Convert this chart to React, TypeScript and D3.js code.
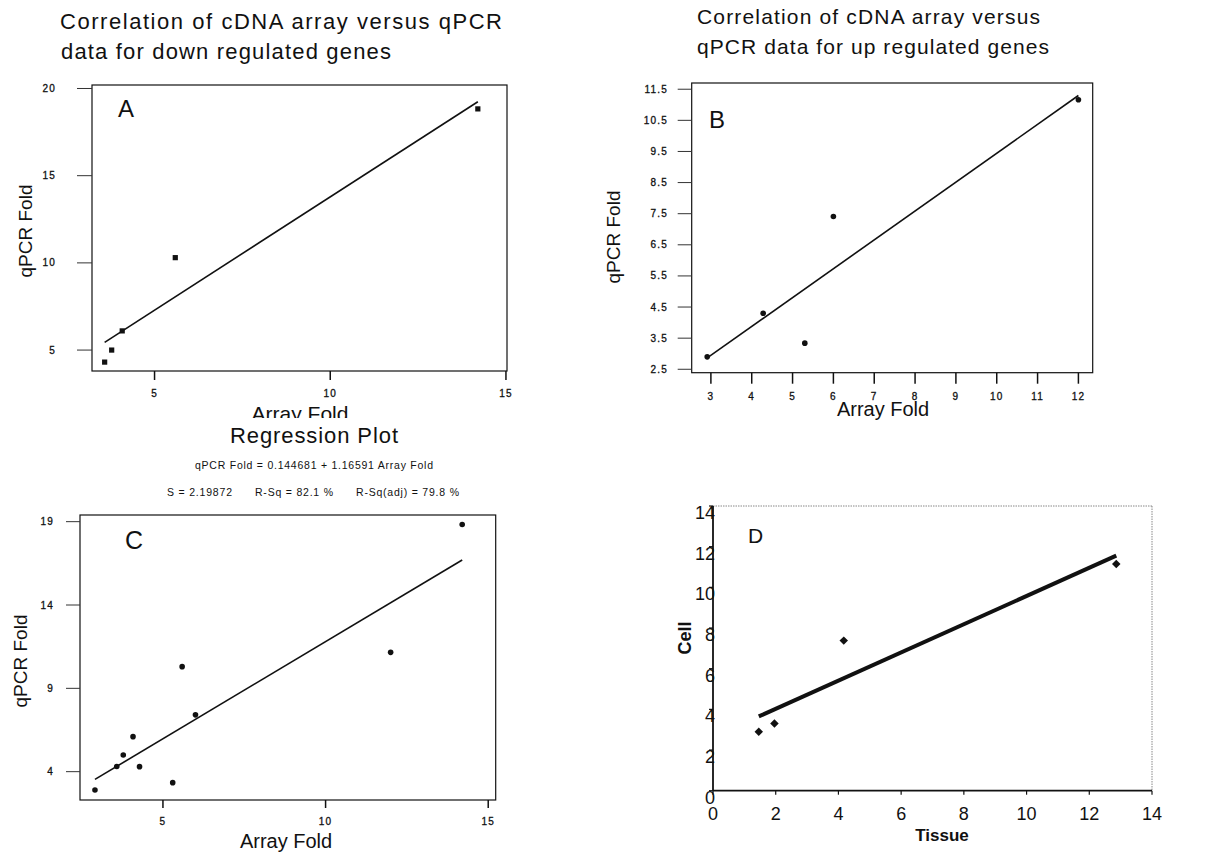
import React from 'react';
import * as d3 from 'd3';

// ---- data ----
const downArrayFold = [3.58, 3.78, 4.08, 5.59, 14.2];
const downQpcrFold = [4.31, 5.0, 6.1, 10.3, 18.83];
const upArrayFold = [2.91, 4.28, 5.3, 6.0, 12.0];
const upQpcrFold = [2.9, 4.3, 3.34, 7.41, 11.16];
const allArrayFold = [...upArrayFold, ...downArrayFold];
const allQpcrFold = [...upQpcrFold, ...downQpcrFold];
const tissueFold = [1.46, 1.96, 4.17, 12.86];
const cellFold = [2.9, 3.31, 7.38, 11.15];
const regressionC = [0.144681, 1.16591];

const ticksAX = [5, 10, 15];
const ticksAY = [5, 10, 15, 20];
const ticksBX = [3, 4, 5, 6, 7, 8, 9, 10, 11, 12];
const ticksBY = [2.5, 3.5, 4.5, 5.5, 6.5, 7.5, 8.5, 9.5, 10.5, 11.5];
const ticksCX = [5, 10, 15];
const ticksCY = [4, 9, 14, 19];
const ticksD = [0, 2, 4, 6, 8, 10, 12, 14];

const FONT = "'Liberation Sans', Arial, Helvetica, sans-serif";

function linReg(xs: number[], ys: number[]): [number, number] {
  const mx = d3.mean(xs)!;
  const my = d3.mean(ys)!;
  let sxy = 0, sxx = 0;
  xs.forEach((x, i) => { sxy += (x - mx) * (ys[i] - my); sxx += (x - mx) ** 2; });
  const b1 = sxy / sxx;
  return [my - b1 * mx, b1];
}

type Box = { l: number; t: number; r: number; b: number };

function fitLine(xs: number[], coef: number[], x: d3.ScaleLinear<number, number>, y: d3.ScaleLinear<number, number>) {
  const [lo, hi] = d3.extent(xs) as [number, number];
  const gen = d3.line<number>().x(v => x(v)).y(v => y(coef[0] + coef[1] * v));
  return gen([lo, hi]) || '';
}

function MinitabPanel(props: {
  xs: number[]; ys: number[]; coef: number[]; box: Box;
  xDom: [number, number]; yDom: [number, number];
  xTicks: number[]; yTicks: number[]; yFmt: (v: number) => string;
  yTickLen: number; xTickLen: number; yLabelRight: number; xLabelBase: number;
  marker: 'square' | 'circle';
}) {
  const { xs, ys, coef, box, xDom, yDom, xTicks, yTicks, yFmt } = props;
  const x = d3.scaleLinear().domain(xDom).range([box.l, box.r]);
  const y = d3.scaleLinear().domain(yDom).range([box.b, box.t]);
  return (
    <g>
      <rect x={box.l} y={box.t} width={box.r - box.l} height={box.b - box.t} fill="none" stroke="#111" strokeWidth={1.2} />
      {yTicks.map(v => (
        <g key={'y' + v}>
          <line x1={box.l - props.yTickLen} x2={box.l} y1={y(v)} y2={y(v)} stroke="#333" strokeWidth={1} />
          <text x={props.yLabelRight} y={y(v)} dy="0.35em" textAnchor="end" fontSize={10} letterSpacing={1.2} fill="#111" stroke="#111" strokeWidth={0.3}>{yFmt(v)}</text>
        </g>
      ))}
      {xTicks.map(v => (
        <g key={'x' + v}>
          <line x1={x(v)} x2={x(v)} y1={box.b} y2={box.b + props.xTickLen} stroke="#111" strokeWidth={1.5} />
          <text x={x(v)} y={props.xLabelBase} textAnchor="middle" fontSize={10} letterSpacing={1.2} fill="#111" stroke="#111" strokeWidth={0.3}>{String(v)}</text>
        </g>
      ))}
      <path d={fitLine(xs, coef, x, y)} fill="none" stroke="#111" strokeWidth={1.6} />
      {xs.map((v, i) => props.marker === 'square'
        ? <rect key={i} x={x(v) - 2.6} y={y(ys[i]) - 2.6} width={5.2} height={5.2} fill="#111" />
        : <circle key={i} cx={x(v)} cy={y(ys[i])} r={2.8} fill="#111" />)}
    </g>
  );
}

export default function App() {
  const coefA = linReg(downArrayFold, downQpcrFold);
  const coefB = linReg(upArrayFold, upQpcrFold);
  const coefD = linReg(tissueFold, cellFold);

  const boxD: Box = { l: 713, t: 506, r: 1152, b: 790.7 };
  const xD = d3.scaleLinear().domain([0, 14]).range([boxD.l, boxD.r]);
  const yD = d3.scaleLinear().domain([0, 14]).range([boxD.b, boxD.t]);

  return (
    <svg width={1223} height={852} viewBox="0 0 1223 852"
      style={{ position: 'absolute', left: 0, top: 0, background: '#fff' }}
      fontFamily={FONT}>
      <defs>
        <clipPath id="clipA"><rect x={0} y={0} width={600} height={418} /></clipPath>
      </defs>
      <rect x={0} y={0} width={1223} height={852} fill="#fff" />

      {/* Panel A */}
      <text x={60} y={29} fontSize={22} textLength={442} lengthAdjust="spacing" fill="#111">Correlation of cDNA array versus qPCR</text>
      <text x={61} y={59} fontSize={22} textLength={330} lengthAdjust="spacing" fill="#111">data for down regulated genes</text>
      <MinitabPanel xs={downArrayFold} ys={downQpcrFold} coef={coefA}
        box={{ l: 92, t: 85, r: 507, b: 371 }} xDom={[3.22, 15.03]} yDom={[3.8, 20.2]}
        xTicks={ticksAX} yTicks={ticksAY} yFmt={v => String(v)}
        yTickLen={15} xTickLen={9} yLabelRight={56} xLabelBase={397} marker="square" />
      <text x={118} y={117} fontSize={24} fill="#111">A</text>
      <text transform="translate(32,231) rotate(-90)" textAnchor="middle" fontSize={19} fill="#111">qPCR Fold</text>
      <g clipPath="url(#clipA)">
        <text x={300} y={421} textAnchor="middle" fontSize={21} fill="#111">Array Fold</text>
      </g>

      {/* Panel B */}
      <text x={697} y={24} fontSize={21} textLength={343} lengthAdjust="spacing" fill="#111">Correlation of cDNA array versus</text>
      <text x={697} y={54} fontSize={21} textLength={352} lengthAdjust="spacing" fill="#111">qPCR data for up regulated genes</text>
      <MinitabPanel xs={upArrayFold} ys={upQpcrFold} coef={coefB}
        box={{ l: 691.7, t: 83, r: 1092.7, b: 372.7 }} xDom={[2.53, 12.35]} yDom={[2.39, 11.7]}
        xTicks={ticksBX} yTicks={ticksBY} yFmt={d3.format('.1f')}
        yTickLen={14} xTickLen={11} yLabelRight={668} xLabelBase={400} marker="circle" />
      <text x={709} y={128} fontSize={24} fill="#111">B</text>
      <text transform="translate(620,237) rotate(-90)" textAnchor="middle" fontSize={19} fill="#111">qPCR Fold</text>
      <text x={883} y={416} textAnchor="middle" fontSize={20} fill="#111">Array Fold</text>

      {/* Panel C */}
      <text x={230} y={442.7} fontSize={22} textLength={168} lengthAdjust="spacing" fill="#111">Regression Plot</text>
      <text x={195} y={469} fontSize={10.5} textLength={238} lengthAdjust="spacing" fill="#111">qPCR Fold = 0.144681 + 1.16591 Array Fold</text>
      <text x={167} y={496} fontSize={10.5} textLength={65} lengthAdjust="spacing" fill="#111">S = 2.19872</text>
      <text x={255} y={496} fontSize={10.5} textLength={78} lengthAdjust="spacing" fill="#111">R-Sq = 82.1 %</text>
      <text x={356} y={496} fontSize={10.5} textLength={103} lengthAdjust="spacing" fill="#111">R-Sq(adj) = 79.8 %</text>
      <MinitabPanel xs={allArrayFold} ys={allQpcrFold} coef={regressionC}
        box={{ l: 80, t: 515, r: 495.7, b: 800 }} xDom={[2.45, 15.23]} yDom={[2.3, 19.4]}
        xTicks={ticksCX} yTicks={ticksCY} yFmt={v => String(v)}
        yTickLen={14} xTickLen={8} yLabelRight={54} xLabelBase={825} marker="circle" />
      <text x={125} y={549} fontSize={25} fill="#111">C</text>
      <text transform="translate(27,661) rotate(-90)" textAnchor="middle" fontSize={19} fill="#111">qPCR Fold</text>
      <text x={286} y={848} textAnchor="middle" fontSize={20} fill="#111">Array Fold</text>

      {/* Panel D */}
      <g>
        <line x1={boxD.l} x2={boxD.r} y1={boxD.t} y2={boxD.t} stroke="#888" strokeWidth={1} strokeDasharray="1.5,1" />
        <line x1={boxD.r} x2={boxD.r} y1={boxD.t} y2={boxD.b} stroke="#888" strokeWidth={1} strokeDasharray="1.5,1" />
        <line x1={boxD.l} x2={boxD.l} y1={boxD.t} y2={boxD.b} stroke="#111" strokeWidth={1.8} />
        <line x1={boxD.l} x2={boxD.r} y1={boxD.b} y2={boxD.b} stroke="#111" strokeWidth={1.8} />
        {ticksD.map(v => (
          <g key={'dx' + v}>
            <line x1={xD(v)} x2={xD(v)} y1={boxD.b} y2={boxD.b + 4} stroke="#111" strokeWidth={1.2} />
            <text x={xD(v)} y={820} textAnchor="middle" fontSize={18} fill="#111">{String(v)}</text>
          </g>
        ))}
        {ticksD.map(v => (
          <g key={'dy' + v}>
            <line x1={boxD.l - 4} x2={boxD.l} y1={yD(v)} y2={yD(v)} stroke="#111" strokeWidth={1.2} />
            <text x={boxD.l + 2} y={yD(v) + 13} textAnchor="end" fontSize={18} fill="#111">{String(v)}</text>
          </g>
        ))}
        <path d={fitLine(tissueFold, coefD, xD, yD)} fill="none" stroke="#111" strokeWidth={4} />
        {tissueFold.map((v, i) => (
          <rect key={i} x={-3} y={-3} width={6} height={6} fill="#111"
            transform={`translate(${xD(v)},${yD(cellFold[i])}) rotate(45)`} />
        ))}
        <text x={748} y={543} fontSize={21} fill="#111">D</text>
        <text transform="translate(691,638) rotate(-90)" textAnchor="middle" fontSize={18} fontWeight="bold" fill="#111">Cell</text>
        <text x={942} y={841} textAnchor="middle" fontSize={17} fontWeight="bold" fill="#111">Tissue</text>
      </g>
    </svg>
  );
}
